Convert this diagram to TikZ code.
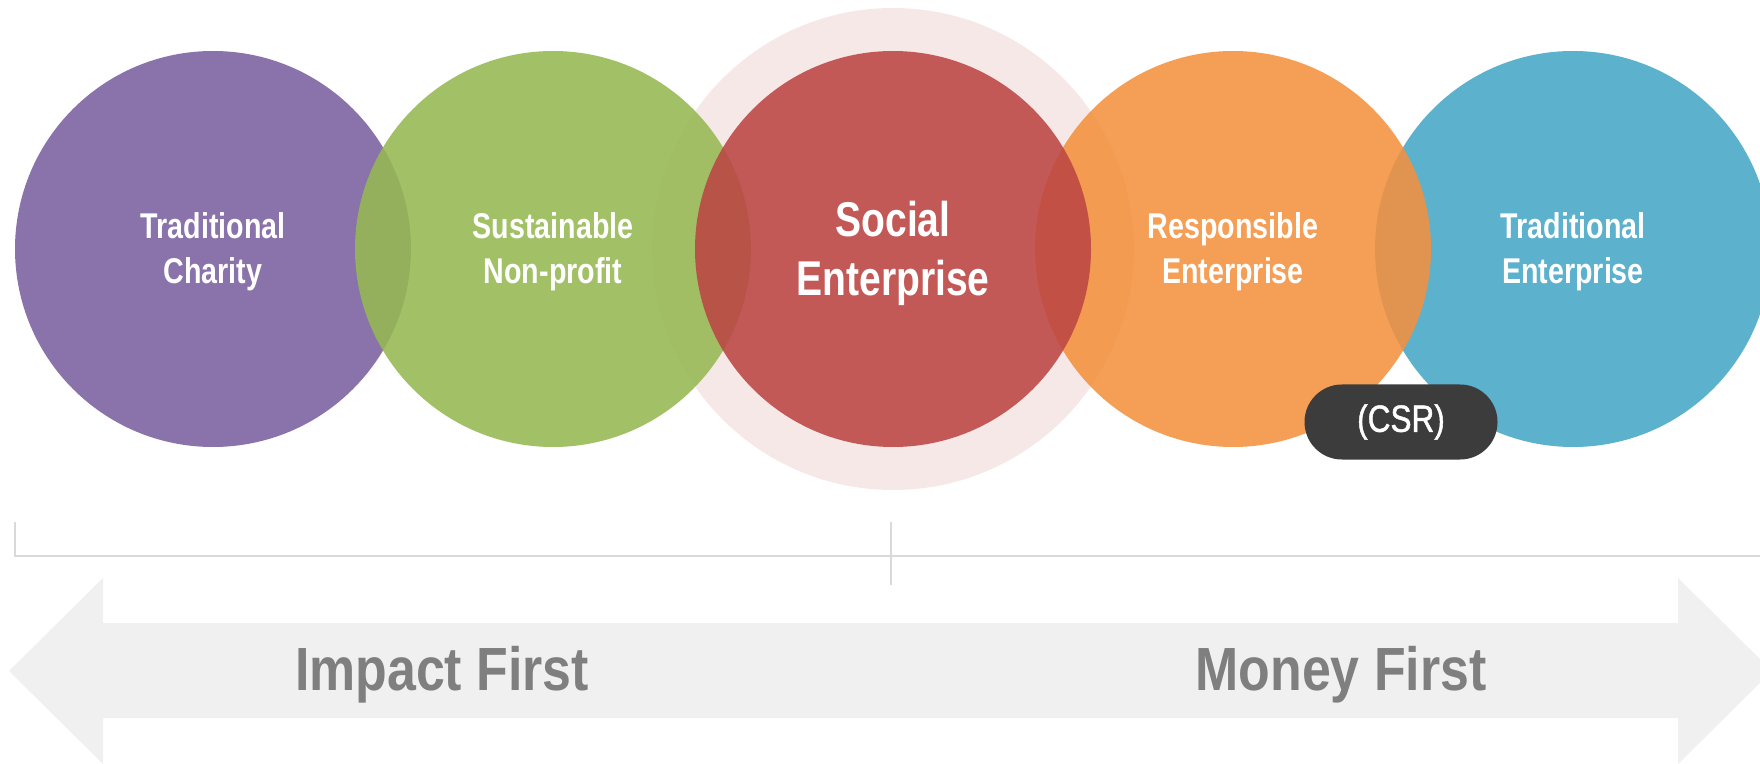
\documentclass[tikz,border=0pt]{standalone}
\usepackage{fontspec}
\setmainfont{Liberation Sans}
\newfontfamily\condfont{Liberation Sans}[FakeStretch=0.8]
\newfontfamily\axisfont{Liberation Sans}[FakeStretch=0.85]
\newfontfamily\tagfont{Liberation Sans}[FakeStretch=0.83,FakeBold=1.2]

\definecolor{charity}{RGB}{138,114,170}
\definecolor{nonprofit}{RGB}{150,185,83}
\definecolor{social}{RGB}{188,70,67}
\definecolor{responsible}{RGB}{244,145,62}
\definecolor{enterprise}{RGB}{92,177,204}
\definecolor{halo}{RGB}{247,232,232}
\definecolor{arrowgray}{RGB}{240,240,240}
\definecolor{axisgray}{RGB}{127,127,127}
\definecolor{rulegray}{RGB}{217,217,217}
\definecolor{pillgray}{RGB}{60,60,60}

\begin{document}
\begin{tikzpicture}[x=0.5pt,y=-0.5pt,
  bubble/.style={circle, minimum size=198pt, inner sep=0pt},
  seethrough/.style={fill opacity=0.88},
  bubbletext/.style={text=white, align=center, inner sep=0pt,
    font=\condfont\bfseries\fontsize{17.9}{22.5}\selectfont},
  bigtext/.style={bubbletext, font=\condfont\bfseries\fontsize{24.4}{29.5}\selectfont},
  halodisc/.style={circle, minimum size=241pt, inner sep=0pt, fill=halo},
  bracket/.style={draw=rulegray, line width=1.2pt},
  axislabel/.style={text=axisgray, inner sep=0pt,
    font=\axisfont\bfseries\fontsize{30.5}{36}\selectfont},
  pill/.style={fill=pillgray, text=white, minimum width=96.5pt, minimum height=37.5pt,
    rounded corners=18.7pt, inner sep=0pt, font=\tagfont\fontsize{19}{22}\selectfont}]
\useasboundingbox (0,0) rectangle (1760,764);
\clip (0,0) rectangle (1760,764);
\fill[white] (0,0) rectangle (1760,764);

% double-headed spectrum arrow
\fill[arrowgray] (9,671) -- (103,578) -- (103,623) -- (1678,623) -- (1678,578)
  -- (1772,671) -- (1678,764) -- (1678,718) -- (103,718) -- (103,764) -- cycle;

% bracket above the arrow
\coordinate (ltop) at (15,522);
\coordinate (lcorner) at (15,556);
\coordinate (rend) at (1760,556);
\coordinate (mtop) at (891,522);
\coordinate (mbot) at (891,585);
\draw[bracket] (ltop) -- (lcorner) -- (rend);
\draw[bracket] (mtop) -- (mbot);

% glow behind the social enterprise
\node[halodisc] (glow) at (893,249) {};

% the five organisation types
\node[bubble, fill=charity] (charity) at (213,249) {};
\node[bubble, seethrough, fill=nonprofit] (nonprofit) at (553,249) {};
\node[bubble, fill=enterprise] (trad) at (1573,249) {};
\node[bubble, seethrough, fill=responsible] (resp) at (1233,249) {};
\node[bubble, seethrough, fill=social] (social) at (893,249) {};

% their names
\node[bubbletext] (charity-t) at ([yshift=-1.5pt]charity.center) {Traditional\\Charity};
\node[bubbletext] (nonprofit-t) at ([yshift=-1.5pt]nonprofit.center) {Sustainable\\Non-profit};
\node[bubbletext] (trad-t) at ([yshift=-1.5pt]trad.center) {Traditional\\Enterprise};
\node[bubbletext] (resp-t) at ([yshift=-1.5pt]resp.center) {Responsible\\Enterprise};
\node[bigtext] (social-t) at ([yshift=-2.2pt]social.center) {Social\\Enterprise};

\node[pill] (csr) at (1401,422) {(CSR)};

% axis labels
\node[axislabel, anchor=base] (impact) at (442,690) {Impact First};
\node[axislabel, anchor=base] (money) at (1341,690) {Money First};
\end{tikzpicture}
\end{document}
